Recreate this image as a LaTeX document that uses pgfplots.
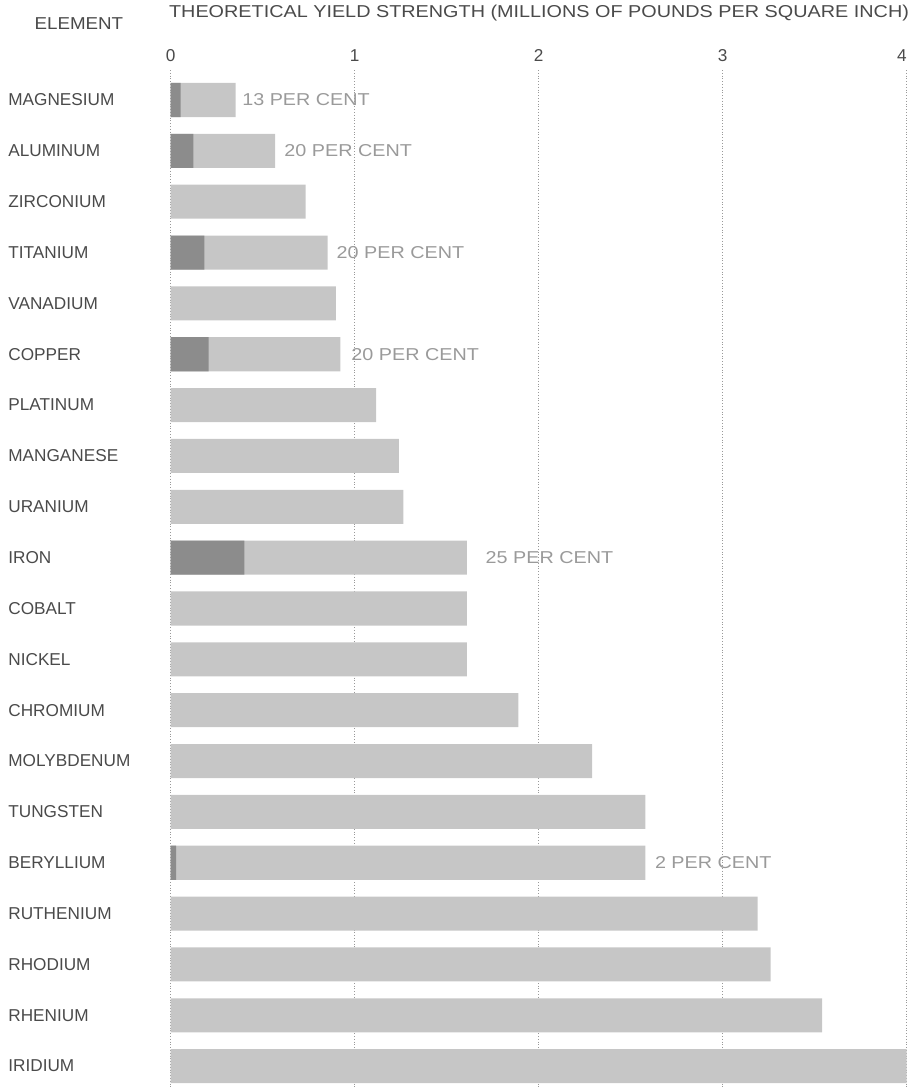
\documentclass[border=0pt]{standalone}
\usepackage{pgfplots}
\pgfplotsset{compat=1.18}
\usepackage{pgfplotstable}
\usepackage{graphicx}
\usepackage{fontspec}
\setmainfont{Liberation Sans}

\definecolor{barlight}{HTML}{C6C6C6}
\definecolor{bardark}{HTML}{8C8C8C}
\definecolor{labelgray}{HTML}{4A4A4A}
\definecolor{notegray}{HTML}{9A9A9A}

% row: 0 = magnesium (top) ... 19 = iridium (bottom)
\pgfplotstableread{
row total
0  0.353
1  0.567
2  0.733
3  0.853
4  0.898
5  0.922
6  1.116
7  1.24
8  1.265
9  1.61
10 1.61
11 1.61
12 1.89
13 2.29
14 2.58
15 2.58
16 3.19
17 3.26
18 3.54
19 4.00
}\totaltable

\pgfplotstableread{
row dark
0  0.054
1  0.123
3  0.183
5  0.206
9  0.40
15 0.03
}\darktable

\pgfplotstableread{
row x label
0  0.387 {13 PER CENT}
1  0.616 {20 PER CENT}
3  0.900 {20 PER CENT}
5  0.980 {20 PER CENT}
9  1.710 {25 PER CENT}
15 2.630 {2 PER CENT}
}\notetable

\newcommand{\wide}[2][1.15]{\scalebox{#1}[1]{#2}}

\begin{document}
\begin{tikzpicture}
\begin{axis}[
    scale only axis,
    width=368pt, height=509pt,
    xmin=0, xmax=4,
    ymin=-0.59, ymax=19.43,
    y dir=reverse,
    axis line style={draw=none},
    major tick length=0pt,
    xtick={0,1,2,3,4},
    xticklabels={0,1,2,3,\makebox[0pt][r]{4}},
    xticklabel pos=upper,
    xticklabel style={inner sep=0pt, yshift=4pt, font=\fontsize{8.6}{10}\selectfont, text=labelgray},
    ytick={0,...,19},
    yticklabels={MAGNESIUM, ALUMINUM, ZIRCONIUM, TITANIUM, VANADIUM, COPPER,
        PLATINUM, MANGANESE, URANIUM, IRON, COBALT, NICKEL, CHROMIUM,
        MOLYBDENUM, TUNGSTEN, BERYLLIUM, RUTHENIUM, RHODIUM, RHENIUM, IRIDIUM},
    yticklabel style={anchor=west, inner sep=0pt, xshift=-81.35pt,
        font=\fontsize{8.6}{10}\selectfont, text=labelgray},
    xmajorgrids=true,
    grid style={densely dotted, line width=0.6pt, color=gray!80},
    title={\wide[1.152]{THEORETICAL YIELD STRENGTH (MILLIONS OF POUNDS PER SQUARE INCH)}},
    title style={at={(rel axis cs:0,1)}, anchor=base west, inner sep=0pt,
        yshift=20.5pt, xshift=-1pt, font=\fontsize{8.6}{10}\selectfont, text=labelgray},
    clip=false,
]
\addplot[xbar, bar width=0.67, bar shift=0pt, fill=barlight, draw=none]
    table[x=total, y=row] {\totaltable};
\addplot[xbar, bar width=0.67, bar shift=0pt, fill=bardark, draw=none]
    table[x=dark, y=row] {\darktable};
\addplot[only marks, mark=none, point meta=explicit symbolic,
    nodes near coords={\wide{\pgfplotspointmeta}},
    nodes near coords style={anchor=west, inner sep=0pt, text=notegray,
        font=\fontsize{8.6}{10}\selectfont}]
    table[x=x, y=row, meta=label] {\notetable};
\node[anchor=base, inner sep=0pt, text=labelgray, font=\fontsize{8.6}{10}\selectfont]
    at (rel axis cs:0,1) [xshift=-45.9pt, yshift=20.5pt] {\wide[1.09]{ELEMENT}};
\end{axis}
\pgfresetboundingbox
\path[use as bounding box] (-85.35pt,0pt) rectangle (368.65pt,544pt);
\end{tikzpicture}
\end{document}
